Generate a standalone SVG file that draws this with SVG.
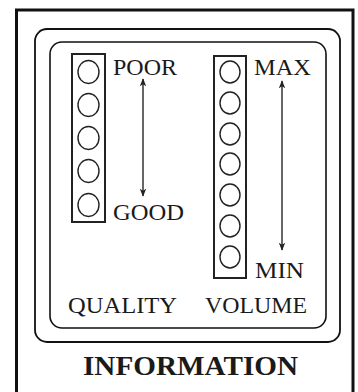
<svg xmlns="http://www.w3.org/2000/svg" width="358" height="392" viewBox="0 0 358 392">
<style>
.frame{fill:none;stroke:#111;}
.led{fill:#fff;stroke:#222;stroke-width:1.4;}
.box{fill:#fff;stroke:#222;stroke-width:2;}
.lbl{font-family:"Liberation Serif","Times New Roman",serif;font-size:23px;fill:#1a1a1a;}
.title{font-family:"Liberation Serif","Times New Roman",serif;font-size:27px;font-weight:bold;fill:#1a1a1a;}
.arr{stroke:#333;stroke-width:1.5;fill:none;marker-start:url(#ah);marker-end:url(#ah);}
</style>
<defs>
<marker id="ah" viewBox="0 0 10 10" refX="9" refY="5" markerWidth="11" markerHeight="8" markerUnits="userSpaceOnUse" orient="auto-start-reverse">
<path d="M0,1 L10,5 L0,9 L2.5,5 Z" fill="#222"/>
</marker>
</defs>
<rect width="358" height="392" fill="#fff"/>
<g id="frame">
<path class="frame" d="M16.5,392 V10 H353 V392" stroke-width="3"/>
<rect class="frame" x="35" y="29" width="305" height="313" rx="12" stroke-width="1.8"/>
<rect class="frame" x="50" y="42" width="276" height="286" rx="12" stroke-width="1.6"/>
</g>
<g id="quality">
<rect class="box" x="72" y="54" width="33" height="168"/>
<ellipse class="led" cx="88.5" cy="72" rx="10.5" ry="11.5"/>
<ellipse class="led" cx="88.5" cy="105" rx="10.5" ry="11.5"/>
<ellipse class="led" cx="88.5" cy="138" rx="10.5" ry="11.5"/>
<ellipse class="led" cx="88.5" cy="171" rx="10.5" ry="11.5"/>
<ellipse class="led" cx="88.5" cy="205" rx="10.5" ry="11.5"/>
<text class="lbl" x="113" y="75" textLength="64" lengthAdjust="spacingAndGlyphs">POOR</text>
<text class="lbl" x="113" y="220" textLength="71" lengthAdjust="spacingAndGlyphs">GOOD</text>
<text class="lbl" x="68" y="313" textLength="109" lengthAdjust="spacingAndGlyphs">QUALITY</text>
</g>
<g id="volume">
<rect class="box" x="214" y="56" width="32" height="222"/>
<ellipse class="led" cx="230" cy="72" rx="10" ry="11"/>
<ellipse class="led" cx="230" cy="103" rx="10" ry="11"/>
<ellipse class="led" cx="230" cy="134" rx="10" ry="11"/>
<ellipse class="led" cx="230" cy="164" rx="10" ry="11"/>
<ellipse class="led" cx="230" cy="195" rx="10" ry="11"/>
<ellipse class="led" cx="230" cy="226" rx="10" ry="11"/>
<ellipse class="led" cx="230" cy="257" rx="10" ry="11"/>
<text class="lbl" x="254" y="75" textLength="57" lengthAdjust="spacingAndGlyphs">MAX</text>
<text class="lbl" x="255" y="278" textLength="49" lengthAdjust="spacingAndGlyphs">MIN</text>
<text class="lbl" x="205" y="313" textLength="102" lengthAdjust="spacingAndGlyphs">VOLUME</text>
</g>
<g id="connectors">
<line class="arr" x1="143" y1="79" x2="143" y2="196"/>
<line class="arr" x1="282" y1="81" x2="282" y2="250"/>
</g>
<g id="title">
<text class="title" x="83" y="375" textLength="215" lengthAdjust="spacingAndGlyphs">INFORMATION</text>
</g>
</svg>
